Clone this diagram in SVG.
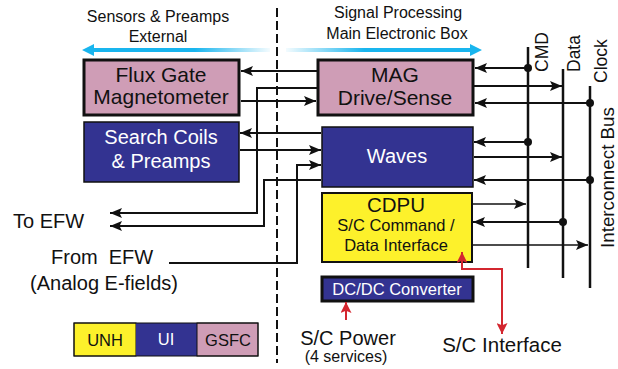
<svg xmlns="http://www.w3.org/2000/svg" width="618" height="369" viewBox="0 0 618 369">
<style>
text{font-family:"Liberation Sans",Arial,Helvetica,sans-serif;fill:#111}
.c{text-anchor:middle}
.w{fill:#fff}
.ln{fill:none;stroke:#111;stroke-width:2}
.thin{fill:none;stroke:#111;stroke-width:1.5}
.bus{fill:none;stroke:#111;stroke-width:2.5}
.red{fill:none;stroke:#d3262f;stroke-width:2}
.dot{fill:#111}
.pink{fill:#cf9db6}
.navy{fill:#333391}
.yel{fill:#fdf12b}
</style>
<defs>
<marker id="ah" viewBox="0 0 12 10" refX="12" refY="5" markerWidth="13" markerHeight="10" markerUnits="userSpaceOnUse" orient="auto-start-reverse">
<path d="M0,0 L12,5 L0,10 L2.5,5 z" fill="#111"/>
</marker>
<marker id="rh" viewBox="0 0 10 10" refX="10" refY="5" markerWidth="13" markerHeight="11" markerUnits="userSpaceOnUse" orient="auto-start-reverse">
<path d="M0,0 L10,5 L0,10 L2,5 z" fill="#d3262f"/>
</marker>
<linearGradient id="gl" gradientUnits="userSpaceOnUse" x1="82" y1="0" x2="270" y2="0">
<stop offset="0" stop-color="#19b5ee"/>
<stop offset="0.6" stop-color="#19b5ee"/>
<stop offset="1" stop-color="#19b5ee" stop-opacity="0.05"/>
</linearGradient>
<linearGradient id="gr" gradientUnits="userSpaceOnUse" x1="286" y1="0" x2="482" y2="0">
<stop offset="0" stop-color="#19b5ee" stop-opacity="0.05"/>
<stop offset="0.4" stop-color="#19b5ee"/>
<stop offset="1" stop-color="#19b5ee"/>
</linearGradient>
</defs>

<g id="headers">
<text class="c" x="158" y="22" font-size="16">Sensors &amp; Preamps</text>
<text class="c" x="158" y="42" font-size="16">External</text>
<text class="c" x="398" y="18" font-size="16">Signal Processing</text>
<text class="c" x="397" y="39" font-size="16">Main Electronic Box</text>
<polygon points="82,50 94,44 94,48 270,48 270,52 94,52 94,56" fill="url(#gl)"/>
<polygon points="482,50 470,44 470,48 286,48 286,52 470,52 470,56" fill="url(#gr)"/>
<line x1="277" y1="8" x2="277" y2="363" stroke="#111" stroke-width="2" stroke-dasharray="9 4"/>
</g>

<g id="fluxgate">
<rect class="pink" x="84" y="60" width="155" height="55" stroke="#111" stroke-width="3"/>
<text class="c" x="161" y="82" font-size="21">Flux Gate</text>
<text class="c" x="161" y="104" font-size="21">Magnetometer</text>
</g>
<g id="searchcoils">
<rect class="navy" x="84" y="122" width="155" height="60" stroke="#111" stroke-width="1.5"/>
<text class="c w" x="161" y="144" font-size="20">Search Coils</text>
<text class="c w" x="161" y="168" font-size="20">&amp; Preamps</text>
</g>
<g id="mag">
<rect class="pink" x="318" y="60" width="155" height="55" stroke="#111" stroke-width="3"/>
<text class="c" x="395" y="82" font-size="21">MAG</text>
<text class="c" x="395" y="105" font-size="21">Drive/Sense</text>
</g>
<g id="waves">
<rect class="navy" x="322" y="127" width="151" height="60" stroke="#111" stroke-width="1.5"/>
<text class="c w" x="397" y="163" font-size="20">Waves</text>
</g>
<g id="cdpu">
<rect class="yel" x="322" y="193" width="150" height="69" stroke="#111" stroke-width="2"/>
<text class="c" x="396" y="212" font-size="20.5">CDPU</text>
<text class="c" x="396" y="231" font-size="16.5">S/C Command /</text>
<text class="c" x="396" y="251" font-size="16.5">Data Interface</text>
</g>
<g id="dcdc">
<rect class="navy" x="322" y="277" width="151" height="24" stroke="#111" stroke-width="3"/>
<text class="c w" x="397" y="294.5" font-size="16.5">DC/DC Converter</text>
</g>

<g id="bus-labels">
<text x="548" y="72" font-size="17.5" transform="rotate(-90 548 72)">CMD</text>
<text x="580" y="72" font-size="17.5" transform="rotate(-90 580 72)">Data</text>
<text x="607" y="83" font-size="17.5" transform="rotate(-90 607 83)">Clock</text>
<text x="614" y="248" font-size="18.8" transform="rotate(-90 614 248)">Interconnect Bus</text>
</g>

<g id="external-labels">
<text x="13" y="228" font-size="20">To EFW</text>
<text x="51" y="264" font-size="20" style="white-space:pre">From  EFW</text>
<text class="c" x="104" y="290" font-size="20">(Analog E-fields)</text>
<text class="c" x="348" y="345" font-size="20">S/C Power</text>
<text class="c" x="346" y="362" font-size="16">(4 services)</text>
<text class="c" x="502" y="352" font-size="20.5">S/C Interface</text>
</g>

<g id="legend">
<rect class="yel" x="74" y="323" width="62" height="33" stroke="#111" stroke-width="1"/>
<rect class="navy" x="136" y="323" width="61" height="33"/>
<rect class="pink" x="197" y="323" width="61" height="33" stroke="#111" stroke-width="1"/>
<rect x="74" y="323" width="184" height="33" fill="none" stroke="#111" stroke-width="1"/>
<text class="c" x="105" y="346" font-size="16.5">UNH</text>
<text class="c w" x="166" y="345" font-size="16.5">UI</text>
<text class="c" x="228" y="346" font-size="16.5">GSFC</text>
</g>

<g id="connectors">
<line class="bus" x1="528" y1="47" x2="528" y2="268"/>
<line class="bus" x1="563" y1="69" x2="563" y2="278"/>
<line class="bus" x1="590" y1="86" x2="590" y2="288"/>
<line class="ln" x1="528" y1="68" x2="475" y2="68" marker-end="url(#ah)"/>
<line class="ln" x1="474" y1="86" x2="562" y2="86" marker-end="url(#ah)"/>
<line class="ln" x1="590" y1="103" x2="475" y2="103" marker-end="url(#ah)"/>
<line class="ln" x1="528" y1="142" x2="474" y2="142" marker-end="url(#ah)"/>
<line class="ln" x1="474" y1="157" x2="562" y2="157" marker-end="url(#ah)"/>
<line class="ln" x1="590" y1="180" x2="474" y2="180" marker-end="url(#ah)"/>
<line class="thin" x1="473" y1="204" x2="526" y2="204" marker-end="url(#ah)"/>
<line class="ln" x1="563" y1="222" x2="473" y2="222" marker-end="url(#ah)"/>
<line class="thin" x1="473" y1="245" x2="588" y2="245" marker-end="url(#ah)"/>
<circle class="dot" cx="528" cy="68" r="4"/>
<circle class="dot" cx="590" cy="103" r="4"/>
<circle class="dot" cx="528" cy="142" r="4"/>
<circle class="dot" cx="590" cy="180" r="4"/>
<circle class="dot" cx="563" cy="222" r="4"/>
<line class="ln" x1="317" y1="71" x2="241" y2="71" marker-end="url(#ah)"/>
<line class="ln" x1="241" y1="101" x2="316" y2="101" marker-end="url(#ah)"/>
<polyline class="ln" points="317,88 257,88 257,213 110,213" marker-end="url(#ah)"/>
<polyline class="ln" points="321,180 264,180 264,226 110,226" marker-end="url(#ah)"/>
<line class="ln" x1="321" y1="133" x2="240" y2="133" marker-end="url(#ah)"/>
<line class="ln" x1="240" y1="150" x2="321" y2="150" marker-end="url(#ah)"/>
<polyline class="ln" points="169,263 297,263 297,165 321,165" marker-end="url(#ah)"/>
<line class="red" x1="346" y1="320" x2="346" y2="302" marker-end="url(#rh)"/>
<polyline class="red" points="502,334 502,269 462,269 462,252" marker-start="url(#rh)" marker-end="url(#rh)"/>
</g>
</svg>
